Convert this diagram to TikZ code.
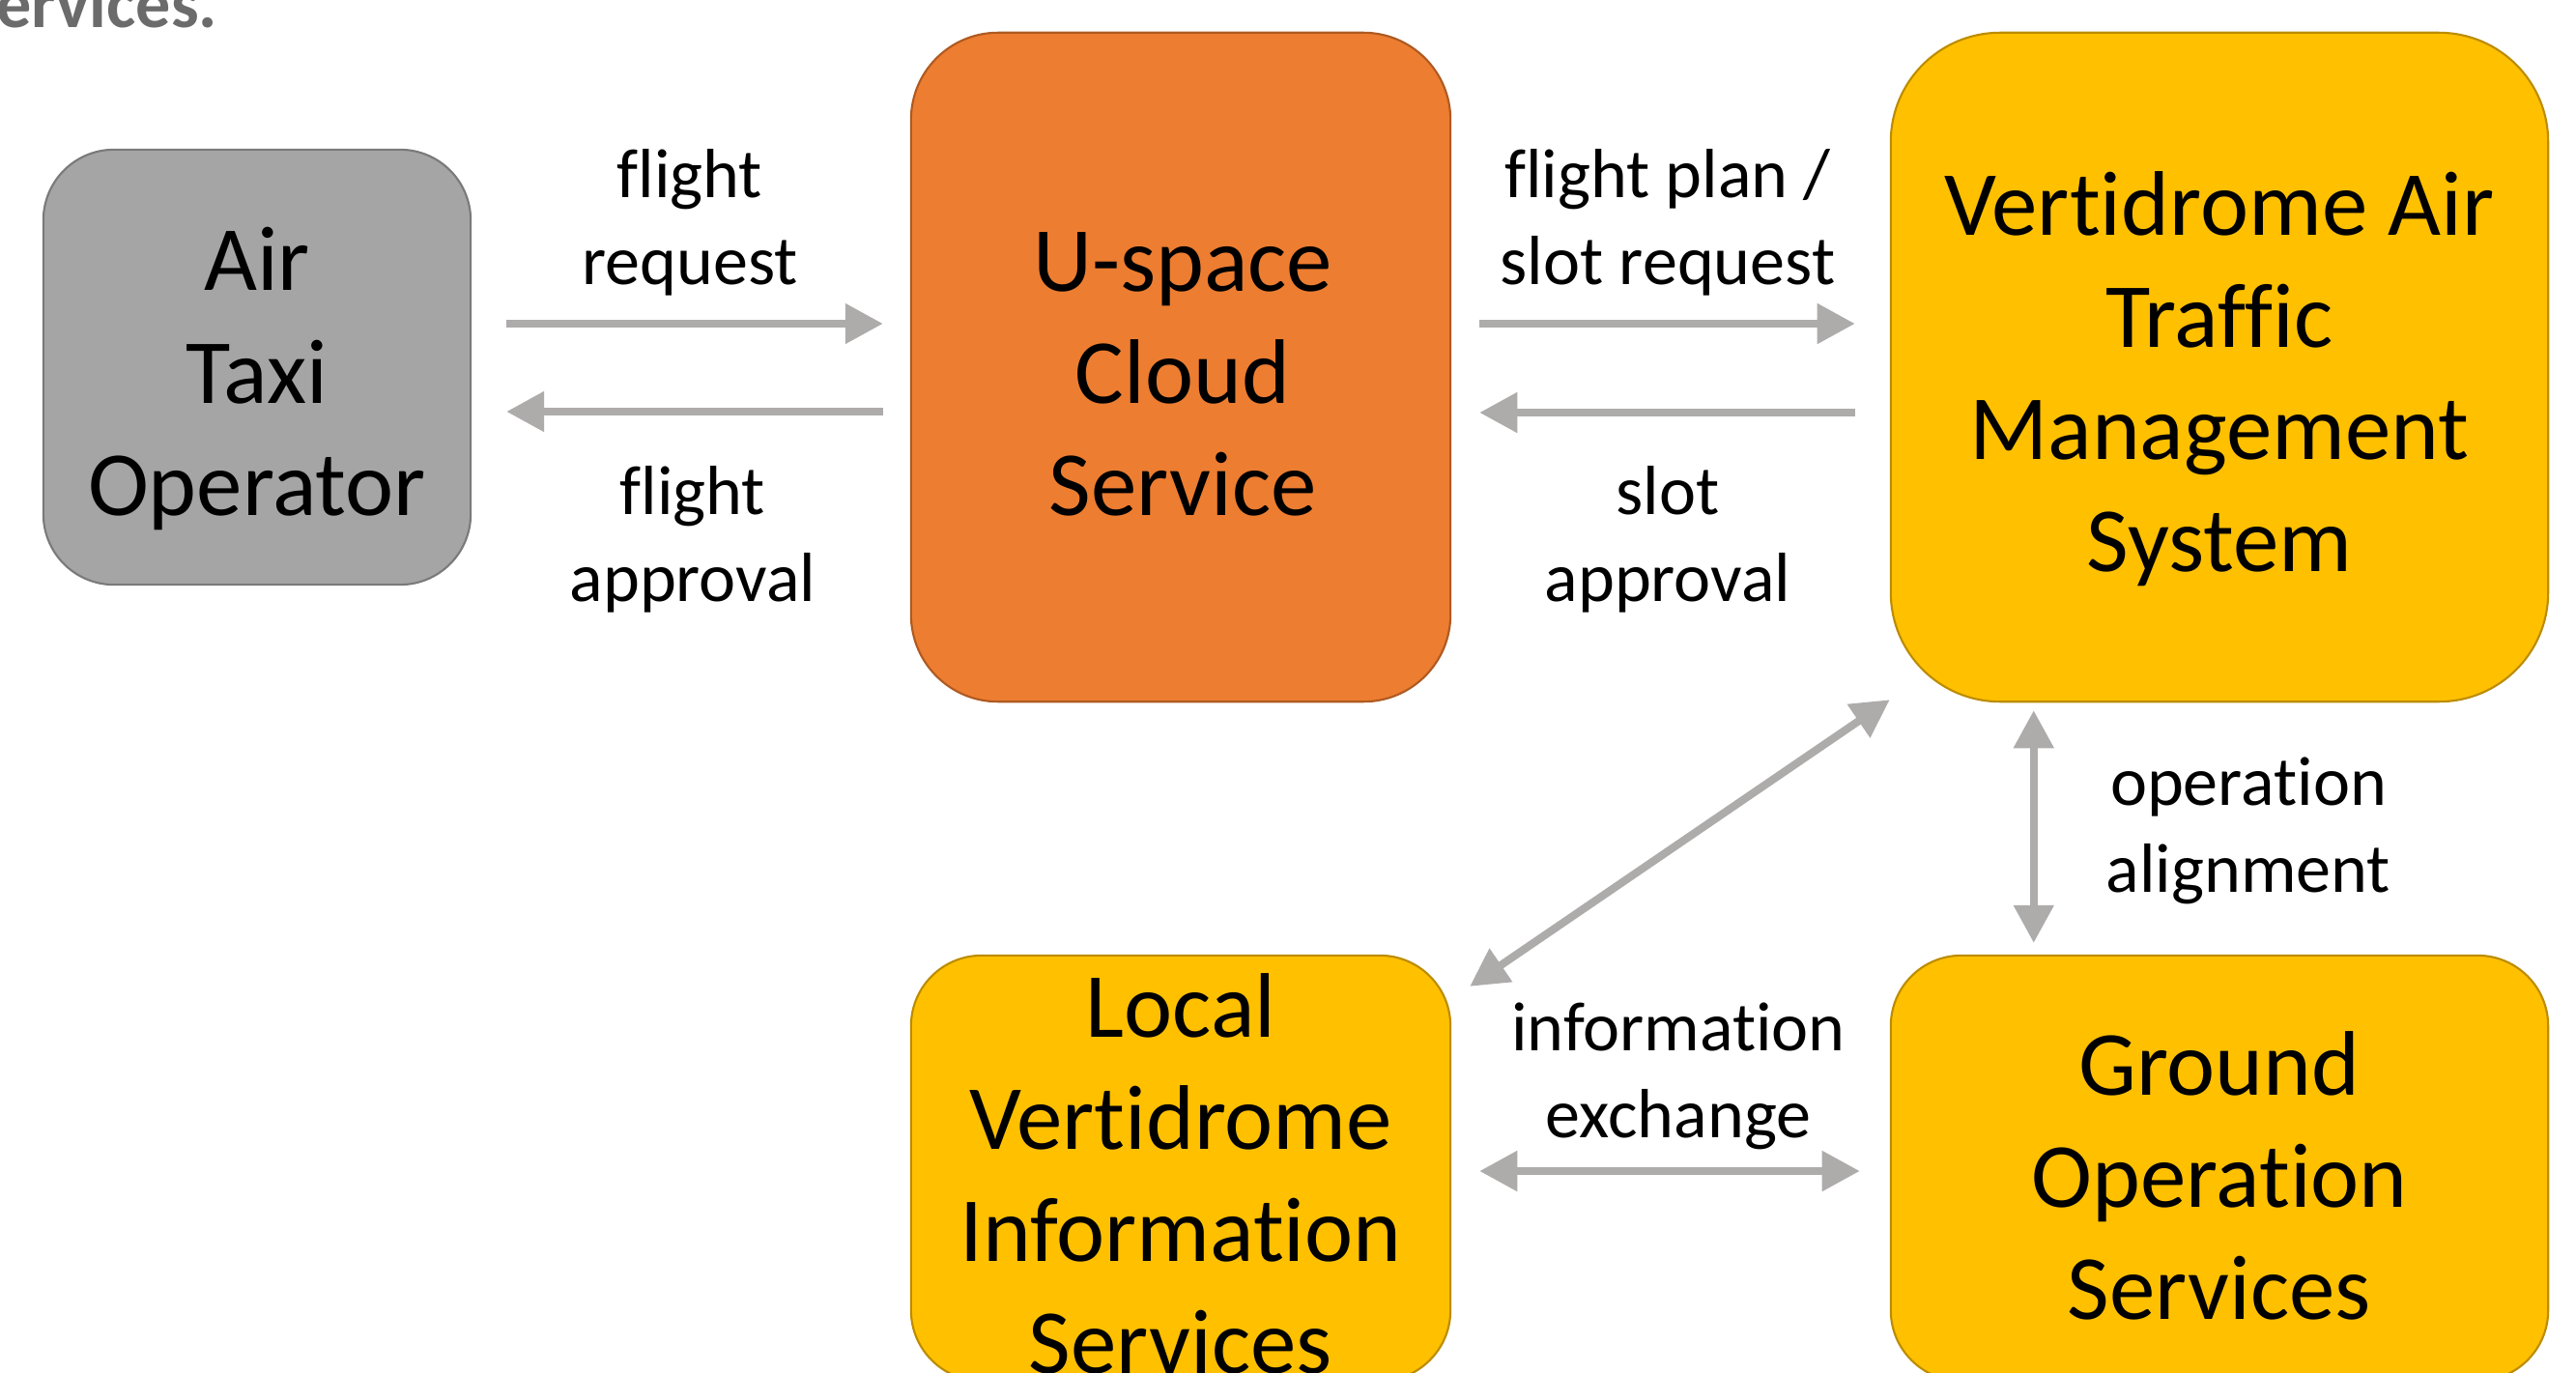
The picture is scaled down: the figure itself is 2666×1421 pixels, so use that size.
\documentclass[tikz,border=0pt]{standalone}
\usepackage{fontspec}
\setmainfont{Carlito}[Ligatures={NoCommon,NoContextual}, Contextuals=NoAlternate]
\usetikzlibrary{arrows.meta,calc}
\definecolor{boxgray}{HTML}{A5A5A5}
\definecolor{boxgrayline}{HTML}{7A7A7A}
\definecolor{boxorange}{HTML}{ED7D31}
\definecolor{boxorangeline}{HTML}{AE5A21}
\definecolor{boxyellow}{HTML}{FFC000}
\definecolor{boxyellowline}{HTML}{BC8C00}
\definecolor{arrowgray}{HTML}{AEABAB}
\definecolor{titlegray}{HTML}{6B6B6B}
\tikzset{
  box/.style={draw, line width=0.6pt, inner sep=0pt},
  boxtext/.style={inner sep=0pt, align=center, font=\fontsize{27}{33}\selectfont},
  lbl/.style={align=center, inner sep=0pt, font=\fontsize{20.5}{25.6}\selectfont},
  arr/.style={draw=arrowgray, line width=2.3pt, -{Triangle[length=0.39cm,width=0.40cm]}},
  darr/.style={draw=arrowgray, line width=2.3pt, {Triangle[length=0.39cm,width=0.40cm]}-{Triangle[length=0.39cm,width=0.40cm]}}
}
\begin{document}
\begin{tikzpicture}[x=0.01cm,y=-0.01cm]
\clip (0,0) rectangle (2666,1421);
\fill[white] (0,0) rectangle (2666,1421);
% title fragment
\node[anchor=base east, inner sep=0pt, text=titlegray, font=\fontsize{20.5}{24}\selectfont\bfseries] (title) at (226,28) {ervices.};
% boxes
\node[box, fill=boxgray, draw=boxgrayline, rounded corners=0.73cm,
  minimum width=4.42cm, minimum height=4.50cm] (atx) at (266,380) {};
\node[box, fill=boxorange, draw=boxorangeline, rounded corners=0.90cm,
  minimum width=5.58cm, minimum height=6.92cm] (usp) at (1222,380) {};
\node[box, fill=boxyellow, draw=boxyellowline, rounded corners=1.13cm,
  minimum width=6.80cm, minimum height=6.92cm] (atm) at (2297,380) {};
\node[box, fill=boxyellow, draw=boxyellowline, rounded corners=0.73cm,
  minimum width=5.58cm, minimum height=4.40cm] (lvis) at (1222,1209) {};
\node[box, fill=boxyellow, draw=boxyellowline, rounded corners=0.73cm,
  minimum width=6.80cm, minimum height=4.40cm] (gos) at (2297,1209) {};
% box texts
\node[boxtext] (atxtext) at (266,392) {Air\\Taxi\\Operator};
\node[boxtext] (usptext) at (1224,387) {U-space\\Cloud\\Service};
\node[boxtext] (atmtext) at (2297,392) {Vertidrome Air\\Traffic\\Management\\System};
\node[boxtext] (lvistext) at (1222,1215) {Local\\Vertidrome\\Information\\Services};
\node[boxtext] (gostext) at (2297,1217) {Ground\\Operation\\Services};
% labels
\node[lbl] (l1) at (714,230) {flight\\request};
\node[lbl] (l2) at (717,558) {flight\\approval};
\node[lbl] (l3) at (1726,230) {flight plan /\\slot request};
\node[lbl] (l4) at (1726,558) {slot\\approval};
\node[lbl] (l5) at (2327,860) {operation\\alignment};
\node[lbl] (l6) at (1737,1114) {information\\exchange};
% connectors
\draw[arr] ($(atx.east)+(36,-45)$) -- ($(usp.west)+(-28,-45)$);
\draw[arr] ($(usp.west)+(-28,46)$) -- ($(atx.east)+(36,46)$);
\draw[arr] ($(usp.east)+(29,-45)$) -- ($(atm.west)+(-36,-45)$);
\draw[arr] ($(atm.west)+(-36,47)$) -- ($(usp.east)+(29,47)$);
\draw[darr] ($(atm.south west)+(149,8)$) -- ($(gos.north west)+(149,-12)$);
\draw[darr] ($(atm.south west)+(0,-3)$) -- ($(lvis.north east)+(19,33)$);
\draw[darr] ($(lvis.east)+(29,3)$) -- ($(gos.west)+(-31,3)$);
\end{tikzpicture}
\end{document}
